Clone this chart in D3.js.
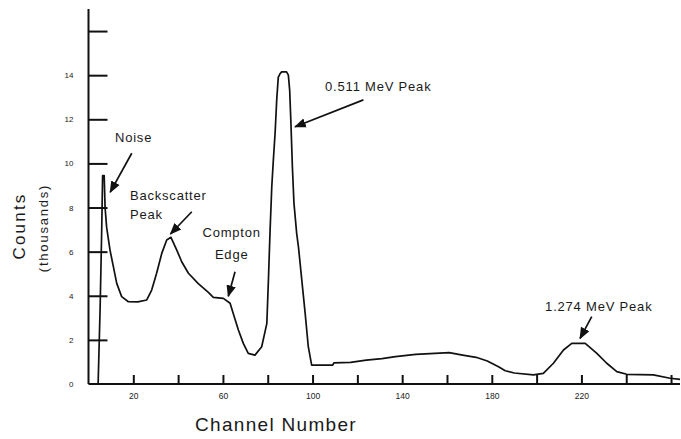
<!DOCTYPE html>
<html>
<head>
<meta charset="utf-8">
<script src="https://cdn.jsdelivr.net/npm/d3@7"></script>
<style>
  html, body { margin: 0; padding: 0; background: #fff; }
  text { font-family: "Liberation Sans", Arial, sans-serif; fill: #1a1a1a; }
</style>
</head>
<body>
<div id="chart"></div>
<script>
// spectrum: channel number and counts (thousands)
const channels = [4.3, 5.2, 5.9, 6.3, 7.0, 7.4, 8.1, 9.6, 11.1, 12.6, 14.8, 17.8, 22, 26, 28.2, 30.4, 32.7, 34.9, 36.8,
  39.4, 41.6, 44.6, 49, 53.5, 55.7, 60.2, 63.2, 64.6, 66.9, 69.1, 71.3, 74.3, 77.3, 79.6, 80.3, 81.0, 81.8, 82.5,
  83.3, 84.0, 84.7, 85.4, 86.2, 88.4, 89.2, 89.8, 90.3, 91.0, 91.7, 92.9, 93.7, 95.2, 96.7, 98.1, 99.6, 109, 109.5,
  117, 124, 131, 137, 146, 161, 167, 173, 178, 183, 186, 190, 198.6, 203, 207.5, 212, 215.7, 221.7, 226.9, 231.3,
  235.8, 240.2, 252.1, 259.6, 264];
const counts = [0, 3.5, 7.0, 9.45, 9.45, 8.0, 7.1, 6.07, 5.32, 4.56, 3.96, 3.73, 3.72, 3.81, 4.26, 5.02, 5.92, 6.53, 6.65,
  6.07, 5.54, 5.02, 4.55, 4.15, 3.93, 3.88, 3.66, 3.2, 2.45, 1.84, 1.39, 1.31, 1.69, 2.75, 4.7, 6.84, 8.94, 10.15,
  11.4, 12.87, 13.9, 14.05, 14.15, 14.15, 14.0, 13.3, 11.97, 9.85, 8.2, 6.84, 6.22, 4.71, 3.2, 1.69, 0.86, 0.86, 0.96,
  0.98, 1.08, 1.15, 1.24, 1.34, 1.42, 1.31, 1.21, 1.04, 0.78, 0.6, 0.5, 0.41, 0.48, 0.94, 1.54, 1.84, 1.84, 1.39, 0.94,
  0.56, 0.44, 0.41, 0.26, 0.21];

const xTicks = [20, 40, 60, 80, 100, 120, 140, 160, 180, 200, 220, 240, 260];
const xTickLabels = [20, 60, 100, 140, 180, 220];
const yTicks = [0, 2, 4, 6, 8, 10, 12, 14, 16];
const yTickLabels = [0, 2, 4, 6, 8, 10, 12, 14];

// callouts: text lines, where the text sits and where the arrow points (channel, thousands)
const noteText = [["Noise"], ["Backscatter", "Peak"], ["Compton", "Edge"], ["0.511 MeV Peak"], ["1.274 MeV Peak"]];
const noteAt = [[11.8, 10.97], [18.5, 8.34], [63.9, 6.66], [105.6, 13.28], [203.8, 3.31]];
const noteFrom = [[19.3, 10.46], [46.1, 7.81], [65.4, 5.09], [122.7, 12.88], [224.6, 3.05]];
const noteTo = [[9.7, 8.7], [36.6, 6.8], [62.4, 3.98], [92.2, 11.66], [219.4, 2.07]];
const noteAnchor = ["start", "start", "middle", "start", "start"];

const width = 681, height = 439;

const svg = d3.select("#chart").append("svg")
  .attr("width", width)
  .attr("height", height);

const x = d3.scaleLinear().domain([0, 264]).range([88.5, 680]);
const y = d3.scaleLinear().domain([0, 17]).range([384, 9]);

// arrow head
svg.append("defs").append("marker")
  .attr("id", "head")
  .attr("viewBox", "0 0 10 10")
  .attr("refX", 9).attr("refY", 5)
  .attr("markerWidth", 7).attr("markerHeight", 7)
  .attr("orient", "auto")
  .append("path")
  .attr("d", "M0,1L10,5L0,9Z")
  .attr("fill", "#111");

// y axis, ticks pointing into the plot
const yAxis = svg.append("g")
  .attr("transform", `translate(${x(0)},0)`)
  .call(d3.axisLeft(y)
    .tickValues(yTicks)
    .tickSize(-19)
    .tickPadding(15)
    .tickFormat(d => yTickLabels.includes(d) ? d : ""));
yAxis.select(".domain").attr("d", `M0,${y(0)}V${y(17)}`);
yAxis.selectAll(".tick").filter(d => d === 0).select("line").remove();

// x axis, ticks pointing up
const xAxis = svg.append("g")
  .attr("transform", `translate(0,${y(0)})`)
  .call(d3.axisBottom(x)
    .tickValues(xTicks)
    .tickSize(-9)
    .tickPadding(9)
    .tickFormat(d => xTickLabels.includes(d) ? d : ""));
xAxis.select(".domain").attr("d", `M${x(0)},0H${x(264)}`);

svg.selectAll(".domain").attr("stroke", "#111").attr("stroke-width", 2);
svg.selectAll(".tick line").attr("stroke", "#111").attr("stroke-width", 2);
yAxis.selectAll(".tick text").attr("font-size", 8).attr("fill", "#222");
xAxis.selectAll(".tick text").attr("font-size", 8.5).attr("fill", "#222");

// spectrum line
const pts = channels.map((c, i) => [c, counts[i]]);
svg.append("path")
  .datum(pts)
  .attr("fill", "none")
  .attr("stroke", "#111")
  .attr("stroke-width", 1.7)
  .attr("stroke-linejoin", "round")
  .attr("d", d3.line().x(d => x(d[0])).y(d => y(d[1])));

// callouts
noteText.forEach((lines, i) => {
  const t = svg.append("text")
    .attr("x", x(noteAt[i][0]))
    .attr("y", y(noteAt[i][1]))
    .attr("font-size", 13)
    .attr("letter-spacing", 0.8)
    .attr("text-anchor", noteAnchor[i]);
  lines.forEach((s, j) => {
    t.append("tspan")
      .attr("x", x(noteAt[i][0]))
      .attr("dy", j === 0 ? 0 : (noteAnchor[i] === "middle" ? 22 : 19))
      .text(s);
  });
  svg.append("line")
    .attr("x1", x(noteFrom[i][0])).attr("y1", y(noteFrom[i][1]))
    .attr("x2", x(noteTo[i][0])).attr("y2", y(noteTo[i][1]))
    .attr("stroke", "#111")
    .attr("stroke-width", 1.7)
    .attr("marker-end", "url(#head)");
});

// axis titles
svg.append("text")
  .attr("x", 276).attr("y", 431)
  .attr("text-anchor", "middle")
  .attr("font-size", 19)
  .attr("letter-spacing", 1.3)
  .text("Channel Number");

svg.append("text")
  .attr("transform", "translate(25,226) rotate(-90)")
  .attr("text-anchor", "middle")
  .attr("font-size", 17)
  .attr("letter-spacing", 2.2)
  .text("Counts");

svg.append("text")
  .attr("transform", "translate(48,228) rotate(-90)")
  .attr("text-anchor", "middle")
  .attr("font-size", 13)
  .attr("letter-spacing", 1.8)
  .text("(thousands)");
</script>
</body>
</html>
